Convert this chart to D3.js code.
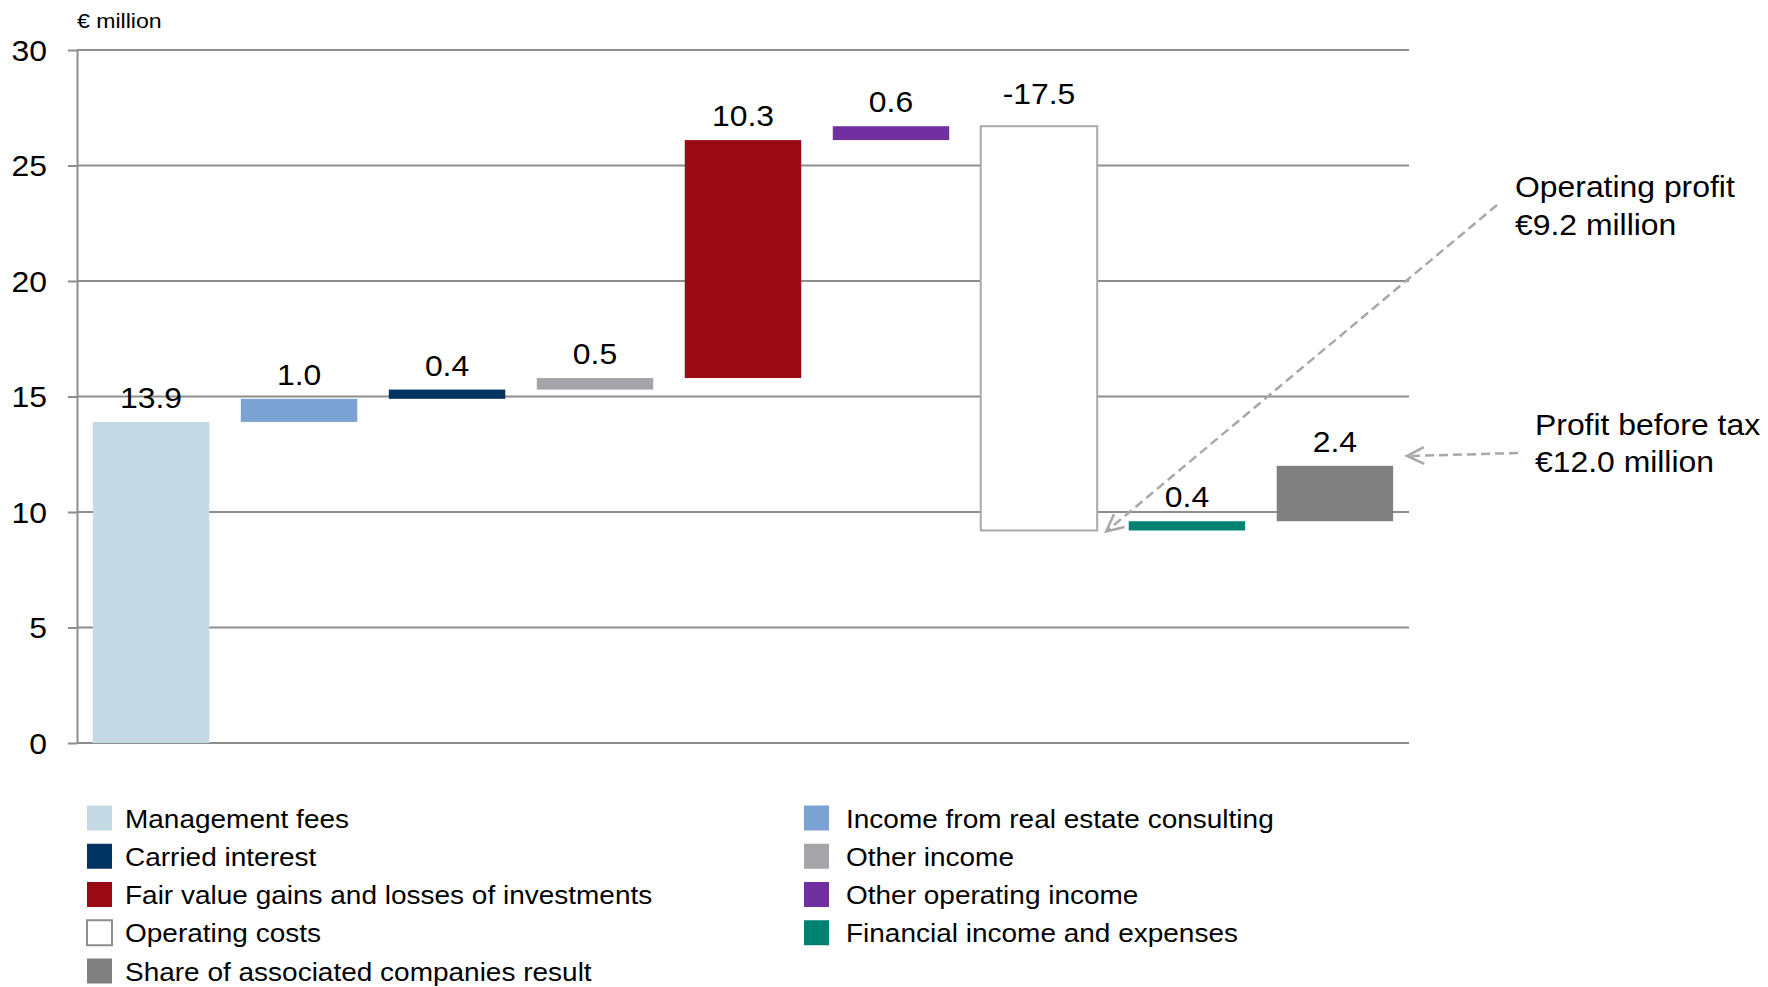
<!DOCTYPE html>
<html>
<head>
<meta charset="utf-8">
<script src="https://cdn.jsdelivr.net/npm/d3@7"></script>
<style>
  html, body { margin: 0; padding: 0; background: #ffffff; }
  svg { display: block; font-family: "Liberation Sans", Arial, Helvetica, sans-serif; }
</style>
</head>
<body>
<svg id="chart" width="1768" height="987"></svg>
<script>
// Waterfall components, in order (€ million)
const categories = [
  "Management fees",
  "Income from real estate consulting",
  "Carried interest",
  "Other income",
  "Fair value gains and losses of investments",
  "Other operating income",
  "Operating costs",
  "Financial income and expenses",
  "Share of associated companies result"
];
const values = [13.9, 1.0, 0.4, 0.5, 10.3, 0.6, -17.5, 0.4, 2.4];
const colors = ["#c5d9e4", "#7aa2d3", "#003262", "#a5a4a9", "#990a14", "#7030a0", "#ffffff", "#008272", "#808080"];
const yTicks = [0, 5, 10, 15, 20, 25, 30];
const unitLabel = "€ million";
const operatingProfitLabel = "Operating profit";
const profitBeforeTaxLabel = "Profit before tax";

const svg = d3.select("#chart");
const SX = 1.1;               // horizontal text stretch
const f1 = d3.format(".1f");
const fmt = v => f1(v).replace("\u2212", "-");
const gridColor = "#8d8d8d";

// running totals for the waterfall
let acc = 0;
const steps = values.map((v, i) => {
  const start = acc;
  acc += v;
  return { name: categories[i], value: v, start, end: acc, color: colors[i] };
});

const x = d3.scaleBand()
  .domain(categories)
  .range([77, 1409])
  .paddingInner(0.213)
  .paddingOuter(0.107);

const y = d3.scaleLinear().domain([0, 30]).range([743, 50]);

function stext(parent, px, py, str, size, anchor, sx) {
  const g = parent.append("g").attr("transform", `translate(${px},${py}) scale(${sx || SX},1)`);
  g.append("text")
    .attr("text-anchor", anchor || "start")
    .attr("font-size", size)
    .attr("fill", "#000")
    .text(str);
  return g;
}

// gridlines
const [x0, x1] = x.range();
svg.append("g").selectAll("line")
  .data(yTicks)
  .join("line")
  .attr("x1", x0).attr("x2", x1)
  .attr("y1", d => y(d)).attr("y2", d => y(d))
  .attr("stroke", gridColor)
  .attr("stroke-width", 2);

// y axis
const yAxis = svg.append("g")
  .attr("transform", `translate(${x0},0)`)
  .call(d3.axisLeft(y).tickValues(yTicks).tickSizeInner(9).tickSizeOuter(0).tickPadding(20));
yAxis.select(".domain").attr("stroke", gridColor).attr("stroke-width", 2);
yAxis.selectAll(".tick line").attr("stroke", gridColor).attr("stroke-width", 2);
yAxis.selectAll(".tick text")
  .attr("font-size", 29)
  .attr("font-family", "Liberation Sans, Arial, sans-serif")
  .attr("fill", "#000")
  .attr("dy", "0.35em")
  .attr("x", -30 / SX)
  .attr("transform", `scale(${SX},1)`);

// unit label
stext(svg, x0, 28, unitLabel, 21, "start");

// bars
svg.append("g").selectAll("rect")
  .data(steps)
  .join("rect")
  .attr("x", d => x(d.name))
  .attr("width", x.bandwidth())
  .attr("y", d => y(Math.max(d.start, d.end)))
  .attr("height", d => Math.abs(y(d.start) - y(d.end)))
  .attr("fill", d => d.color)
  .attr("stroke", d => d.color === "#ffffff" ? "#a9a9a9" : "none")
  .attr("stroke-width", 2);

// value labels
const labels = svg.append("g");
steps.forEach(d => {
  const off = d.value < 0 ? 22 : 14;
  stext(labels, x(d.name) + x.bandwidth() / 2, y(Math.max(d.start, d.end)) - off, fmt(d.value), 29, "middle");
});

// annotations
const dashColor = "#a8a8a8";
function arrow(fromX, fromY, tipX, tipY) {
  const g = svg.append("g").attr("stroke", dashColor).attr("stroke-width", 2.5).attr("fill", "none");
  g.append("line")
    .attr("x1", fromX).attr("y1", fromY).attr("x2", tipX).attr("y2", tipY)
    .attr("stroke-dasharray", "9,5");
  const ang = Math.atan2(fromY - tipY, fromX - tipX);
  const len = 19, spread = 26 * Math.PI / 180;
  const p1 = [tipX + len * Math.cos(ang - spread), tipY + len * Math.sin(ang - spread)];
  const p2 = [tipX + len * Math.cos(ang + spread), tipY + len * Math.sin(ang + spread)];
  g.append("path").attr("d", `M${p1[0]},${p1[1]}L${tipX},${tipY}L${p2[0]},${p2[1]}`);
}

const opIdx = categories.indexOf("Operating costs");
const operatingProfit = steps[opIdx].end;
const profitBeforeTax = steps[steps.length - 1].end;

arrow(1497, 205, x(categories[opIdx]) + x.bandwidth() + 9, y(operatingProfit) + 1);
arrow(1518, 453, x1 - 2, 456);

stext(svg, 1515, 197, operatingProfitLabel, 29, "start");
stext(svg, 1515, 235, "€" + fmt(operatingProfit) + " million", 29, "start");
stext(svg, 1535, 435, profitBeforeTaxLabel, 29, "start");
stext(svg, 1535, 472, "€" + fmt(profitBeforeTax) + " million", 29, "start");

// legend: two columns, row-major
const legendCols = [{ sq: 87, tx: 125 }, { sq: 804, tx: 846 }];
const legendRowY = d3.scaleLinear().domain([0, 4]).range([818, 971]);
const legend = svg.append("g");
steps.forEach((d, i) => {
  const col = legendCols[i % 2];
  const cy = legendRowY(Math.floor(i / 2));
  legend.append("rect")
    .attr("x", col.sq).attr("y", cy - 12.5)
    .attr("width", 25).attr("height", 25)
    .attr("fill", d.color)
    .attr("stroke", d.color === "#ffffff" ? "#8d8d8d" : "none")
    .attr("stroke-width", 2);
  stext(legend, col.tx, cy + 9.5, d.name, 26, "start", 1.077);
});
</script>
</body>
</html>
